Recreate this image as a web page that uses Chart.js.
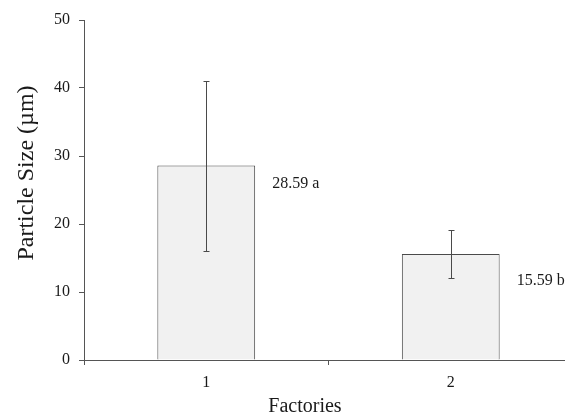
<!DOCTYPE html>
<html>
<head>
<meta charset="utf-8">
<script src="https://cdn.jsdelivr.net/npm/chart.js@4"></script>
<style>
  html, body { margin: 0; padding: 0; background: #fff; overflow: hidden; }
  canvas { display: block; }
</style>
</head>
<body>
<canvas id="chart" width="573" height="415"></canvas>
<script>
// Particle size by factory: mean bars with +/- error whiskers and
// significance letters beside each bar.
const categories = ["1", "2"]
const means = [28.59, 15.59]
const errors = [12.5, 3.6]
const valueLabels = ["28.59 a", "15.59 b"]
const yTicks = [0, 10, 20, 30, 40, 50]
const xTitle = "Factories"
const yTitle = "Particle Size (\u00b5m)"

const FONT = "'Liberation Serif', 'Times New Roman', serif"
const AXIS_COLOR = "#555"
const BAR_BORDER = "#4a4a4a"
const BAR_FILL = "#f1f1f1"
const TEXT_COLOR = "#1a1a1a"
const TICK_LENGTH = 5
// vertical nudge of each value label below its bar top (px)
const LABEL_DY = [18, 27]

const AXIS_GRID = {
  drawOnChartArea: false,
  drawTicks: true,
  tickLength: TICK_LENGTH,
  tickColor: AXIS_COLOR
}

const errorBarsPlugin = {
  id: "errorBars",
  afterDatasetsDraw(chart) {
    const { ctx, scales } = chart
    const bars = chart.getDatasetMeta(0).data
    ctx.save()
    ctx.strokeStyle = BAR_BORDER
    ctx.lineWidth = 1
    bars.forEach((bar, i) => {
      const x = Math.round(bar.x) + 0.5
      const top = Math.round(scales.y.getPixelForValue(means[i] + errors[i])) + 0.5
      const bot = Math.round(scales.y.getPixelForValue(means[i] - errors[i])) + 0.5
      ctx.beginPath()
      ctx.moveTo(x, top)
      ctx.lineTo(x, bot)
      ctx.moveTo(x - 3, top)
      ctx.lineTo(x + 3, top)
      ctx.moveTo(x - 3, bot)
      ctx.lineTo(x + 3, bot)
      ctx.stroke()
    })
    ctx.restore()
  }
}

const labelsPlugin = {
  id: "valueLabels",
  afterDraw(chart) {
    const { ctx, chartArea } = chart
    const bars = chart.getDatasetMeta(0).data
    ctx.save()
    ctx.fillStyle = TEXT_COLOR
    ctx.font = "16px " + FONT
    ctx.textAlign = "left"
    ctx.textBaseline = "middle"
    bars.forEach((bar, i) => {
      ctx.fillText(valueLabels[i], bar.x + bar.width / 2 + 17, bar.y + LABEL_DY[i])
    })

    // axis titles, placed as in the original figure
    ctx.font = "20px " + FONT
    ctx.textAlign = "center"
    ctx.textBaseline = "alphabetic"
    ctx.fillText(xTitle, 305, chartArea.bottom + 52)

    ctx.font = "24px " + FONT
    ctx.translate(33, chartArea.top + 153)
    ctx.rotate(-Math.PI / 2)
    ctx.fillText(yTitle, 0, 0)
    ctx.restore()
  }
}

new Chart(document.getElementById("chart").getContext("2d"), {
  type: "bar",
  plugins: [errorBarsPlugin, labelsPlugin],
  data: {
    labels: categories,
    datasets: [
      {
        data: means,
        backgroundColor: BAR_FILL,
        borderColor: BAR_BORDER,
        borderWidth: 1,
        barPercentage: 0.4,
        categoryPercentage: 1
      }
    ]
  },
  options: {
    responsive: false,
    animation: false,
    layout: { padding: { top: 20, left: 0, right: 0, bottom: 0 } },
    plugins: {
      legend: { display: false },
      tooltip: { enabled: false }
    },
    scales: {
      x: {
        offset: true,
        grid: { ...AXIS_GRID, offset: true },
        border: { display: true, color: AXIS_COLOR, width: 1 },
        ticks: {
          color: TEXT_COLOR,
          font: { family: FONT, size: 16 },
          padding: 8,
          maxRotation: 0
        },
        afterFit: (scale) => { scale.height = 55 }
      },
      y: {
        min: 0,
        max: 50,
        grid: { ...AXIS_GRID },
        border: { display: true, color: AXIS_COLOR, width: 1 },
        afterBuildTicks: (axis) => {
          axis.ticks = yTicks.map((v) => ({ value: v }))
        },
        ticks: {
          color: TEXT_COLOR,
          font: { family: FONT, size: 16 },
          padding: 9
        },
        afterFit: (scale) => { scale.width = 84 }
      }
    }
  }
})
</script>
</body>
</html>
